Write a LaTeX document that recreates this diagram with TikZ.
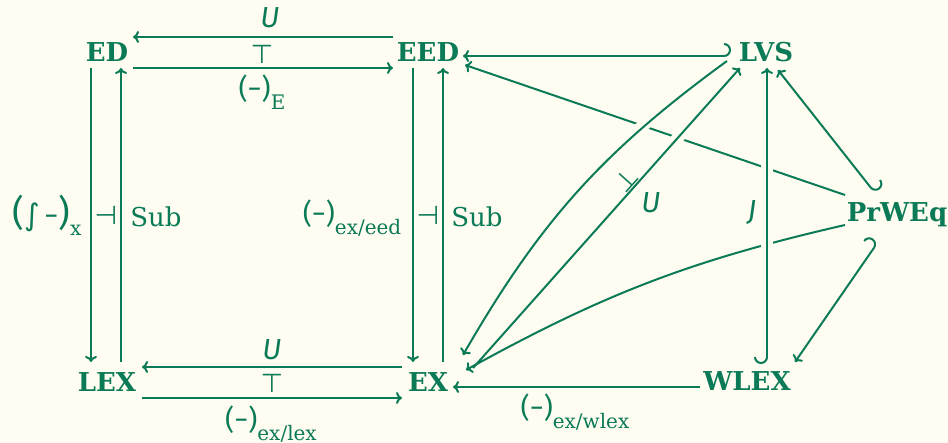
\documentclass[tikz,border=0pt]{standalone}
\usepackage{fontspec}
\setmainfont{DejaVu Serif}
\newfontfamily\firafont{Fira Sans}
\newfontfamily\symfont{DejaVu Sans}
\usetikzlibrary{arrows.meta,bending}

\definecolor{cdgreen}{HTML}{0B7A56}
\definecolor{cdpaper}{HTML}{FFFDF2}

\newcommand{\subtext}[1]{\raisebox{-0.40em}{\fontsize{20}{20}\selectfont #1}}
\newcommand{\blank}{{\fontsize{28}{28}\firafont(−)}}
\newcommand{\ital}[1]{{\fontsize{29}{29}\firafont\itshape #1}}

\tikzset{
  obj/.style={font=\fontsize{26}{26}\selectfont\bfseries, text=cdgreen,
    inner sep=0pt, text depth=0pt},
  lbl/.style={font=\fontsize{26}{26}\selectfont, text=cdgreen, inner sep=0pt},
  mor/.style={draw=cdgreen, line width=2pt, -{To[length=6pt,width=12pt]}},
  hooked/.style={mor, {Hooks[left,width=26pt,length=7pt]}-{To[length=6pt,width=12pt]}},
  hookedl/.style={mor, {Hooks[right,width=26pt,length=7pt]}-{To[length=6pt,width=12pt]}},
  over/.style={preaction={-, draw=cdpaper, line width=12pt,
    shorten <=30pt, shorten >=30pt}}
}

\begin{document}
\begin{tikzpicture}[x=1pt,y=1pt]
\fill[cdpaper] (0,0) rectangle (948,443);
\useasboundingbox (0,0) rectangle (948,443);

% Objects
\node[obj] (ED)    at (107,391) {ED};
\node[obj] (EED)   at (428,391) {EED};
\node[obj] (LVS)   at (766,391) {LVS};
\node[obj] (PrWEq) at (897,231) {PrWEq};
\node[obj] (LEX)   at (107,61)  {LEX};
\node[obj] (EX)    at (428,61)  {EX};
\node[obj] (WLEX)  at (747,62)  {WLEX};

% Top adjunction
\draw[mor] ([shift={(-35,15)}]EED.center) -- ([shift={(26,15)}]ED.center);
\draw[mor] ([shift={(26,-16)}]ED.center) -- ([shift={(-35,-16)}]EED.center);
\node[lbl] (uTop)   at (270,425) {\ital{U}};
\node[lbl] (topT)   at (262,389) {\symfont ⊤};
\node[lbl] (funE)   at (262,351) {\blank\subtext{E}};

% Left adjunction
\draw[mor] ([shift={(-16,-16)}]ED.center) -- ([shift={(-16,20)}]LEX.center);
\draw[mor] ([shift={(14,20)}]LEX.center) -- ([shift={(14,-16)}]ED.center);
\node[lbl] (funX)   at (47,228)
  {{\fontsize{36}{36}\firafont(}{\fontsize{30}{30}\symfont ∫}\,{\fontsize{28}{28}\firafont −}{\fontsize{36}{36}\firafont)}\subtext{x}};
\node[lbl] (leftD)  at (106,228) {\symfont ⊣};
\node[lbl] (subL)   at (156,226) {Sub};

% Middle adjunction
\draw[mor] ([shift={(-15,-16)}]EED.center) -- ([shift={(-15,20)}]EX.center);
\draw[mor] ([shift={(15,20)}]EX.center) -- ([shift={(15,-16)}]EED.center);
\node[lbl] (funEed) at (352,225) {\blank\subtext{ex/eed}};
\node[lbl] (midD)   at (428,228) {\symfont ⊣};
\node[lbl] (subM)   at (477,226) {Sub};

% Bottom adjunction
\draw[mor] ([shift={(-26,15)}]EX.center) -- ([shift={(35,15)}]LEX.center);
\draw[mor] ([shift={(35,-16)}]LEX.center) -- ([shift={(-26,-16)}]EX.center);
\node[lbl] (uBot)   at (272,93) {\ital{U}};
\node[lbl] (botT)   at (272,60) {\symfont ⊤};
\node[lbl] (funLex) at (271,19) {\blank\subtext{ex/lex}};

% Arrows out of PrWEq (drawn first, crossed over later)
\draw[mor] ([shift={(-52,17)}]PrWEq.center) -- ([shift={(37,-13)}]EED.center);
\draw[mor] ([shift={(-52,-13)}]PrWEq.center) to[bend right=8] ([shift={(38,12)}]EX.center);
\draw[hooked] ([shift={(-22,19)}]PrWEq.center) -- ([shift={(12,-18)}]LVS.center);
\draw[hooked] ([shift={(-19,-30)}]PrWEq.center) -- ([shift={(48,19)}]WLEX.center);

% LVS and WLEX
\draw[hooked] ([shift={(-35,-4)}]LVS.center) -- ([shift={(35,-4)}]EED.center);
\draw[mor] ([shift={(-47,-6)}]WLEX.center) -- ([shift={(25,-5)}]EX.center);
\node[lbl] (funWlex) at (575,31) {\blank\subtext{ex/wlex}};
\draw[hookedl, over] ([shift={(20,17)}]WLEX.center) -- ([shift={(1,-16)}]LVS.center);
\node[lbl] (jLbl) at (752,230) {\ital{J}};

% Free / forgetful pair
\draw[mor, over] ([shift={(-39,-9)}]LVS.center) to[bend right=12] ([shift={(35,27)}]EX.center);
\draw[mor, over] ([shift={(45,14)}]EX.center) -- ([shift={(-26,-16)}]LVS.center);
\node[lbl, rotate=48] (perpD) at (626,263) {\symfont ⊥};
\node[lbl] (uMid) at (651,240) {\ital{U}};

\end{tikzpicture}
\end{document}
